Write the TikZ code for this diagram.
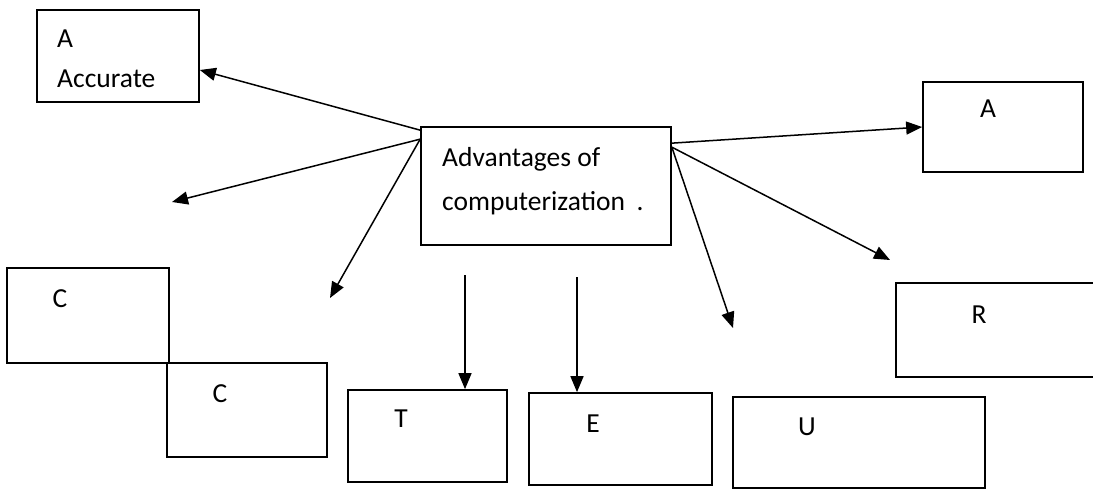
\documentclass[tikz,border=0pt]{standalone}
\usepackage{fontspec}
\setmainfont{Carlito}
\usetikzlibrary{arrows.meta}
\begin{document}
\begin{tikzpicture}[x=1pt,y=-1pt,
  box/.style={draw=black, line width=1.7pt, rectangle, inner sep=0pt},
  lbl/.style={inner sep=0pt, font=\fontsize{27.5}{33}\selectfont},
  conn/.style={line width=1.5pt, -{Triangle[length=16pt,width=13pt]}}]
\useasboundingbox (0,0) rectangle (1093,491);
\clip (0,0) rectangle (1093,491);

% boxes
\node[box, minimum width=162pt, minimum height=92pt] (acc) at (118,56) {};
\node[box, minimum width=250pt, minimum height=118pt] (ctr) at (546,186) {};
\node[box, minimum width=160pt, minimum height=90pt] (ar) at (1003,127) {};
\node[box, minimum width=162pt, minimum height=95pt] (c1) at (88,315.5) {};
\node[box, minimum width=160pt, minimum height=94pt] (c2) at (247,410) {};
\node[box, minimum width=159pt, minimum height=92pt] (t) at (427.5,436) {};
\node[box, minimum width=183pt, minimum height=92pt] (e) at (620.5,439) {};
\node[box, minimum width=252pt, minimum height=91pt] (u) at (859,442.5) {};
\node[box, minimum width=220pt, minimum height=94pt] (r) at (1006,330) {};

% labels
\node[lbl, anchor=base west] (accA) at (57,47) {A};
\node[lbl, anchor=base west] (accT) at (57,87) {Accurate};
\node[lbl, anchor=base west] (ctrA) at (442,166) {Advantages of};
\node[lbl, anchor=base west] (ctrB) at (442,210) {computerization};
\node[lbl, anchor=base] (ctrDot) at (640,210) {.};
\node[lbl, anchor=base] (arT) at (988,117) {A};
\node[lbl, anchor=base] (c1T) at (60,307) {C};
\node[lbl, anchor=base] (c2T) at (220,402) {C};
\node[lbl, anchor=base] (tT) at (401,427) {T};
\node[lbl, anchor=base] (eT) at (593,432) {E};
\node[lbl, anchor=base] (uT) at (807,435) {U};
\node[lbl, anchor=base] (rT) at (979,323) {R};

% free ends of connectors
\coordinate (fa) at (172,202);
\coordinate (fb) at (330,298);
\coordinate (fu) at (733,328);
\coordinate (fr) at (890,260);
\coordinate (s1) at (465,275);
\coordinate (s2) at (577,277);

% connectors
\draw[conn] ([yshift=-4pt]ctr.north west) -- ([yshift=-14pt]acc.east);
\draw[conn] ([yshift=-13pt]ctr.north west) -- (fa);
\draw[conn] ([yshift=-13pt]ctr.north west) -- (fb);
\draw[conn] (s1) -- (s1 |- t.north);
\draw[conn] (s2) -- (s2 |- e.north);
\draw[conn] ([yshift=-21pt]ctr.north east) -- (fu);
\draw[conn] ([yshift=-21pt]ctr.north east) -- (fr);
\draw[conn] ([yshift=-17pt]ctr.north east) -- (ar.west);
\end{tikzpicture}
\end{document}
